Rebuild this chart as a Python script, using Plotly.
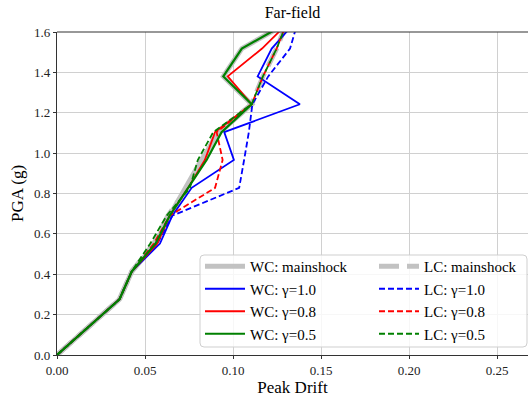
import plotly.graph_objects as go

pga = [0, 0.138, 0.276, 0.414, 0.552, 0.69, 0.828, 0.966, 1.104, 1.242, 1.38, 1.518, 1.656]

wc_main = [0, 0.018, 0.0355, 0.0425, 0.056, 0.064, 0.073, 0.082, 0.0925, 0.1106, 0.0945, 0.105, 0.133]
lc_main = [0, 0.018, 0.0355, 0.0425, 0.055, 0.063, 0.074, 0.083, 0.091, 0.1106, 0.117, 0.1248, 0.131]
wc_10 = [0, 0.018, 0.0355, 0.0425, 0.0585, 0.0655, 0.0765, 0.1005, 0.095, 0.138, 0.114, 0.122, 0.136]
lc_10 = [0, 0.018, 0.0355, 0.0425, 0.057, 0.0655, 0.1035, 0.1063, 0.109, 0.111, 0.120, 0.1324, 0.137]
wc_08 = [0, 0.018, 0.0355, 0.0425, 0.057, 0.064, 0.0745, 0.084, 0.0898, 0.1106, 0.097, 0.1165, 0.1325]
lc_08 = [0, 0.018, 0.0355, 0.0425, 0.055, 0.064, 0.0898, 0.0941, 0.0907, 0.1106, 0.117, 0.1248, 0.131]
wc_05 = [0, 0.018, 0.0355, 0.0425, 0.056, 0.064, 0.0745, 0.085, 0.0935, 0.1106, 0.0945, 0.105, 0.133]
lc_05 = [0, 0.018, 0.0355, 0.0425, 0.053, 0.0623, 0.0755, 0.080, 0.0888, 0.1106, 0.117, 0.1248, 0.131]

x_ticks = [0.0, 0.05, 0.10, 0.15, 0.20, 0.25]
y_ticks = [0.0, 0.2, 0.4, 0.6, 0.8, 1.0, 1.2, 1.4, 1.6]

GRAY = "#c2c2c2"
series = [
    ("WC: mainshock", wc_main, GRAY, "solid", 5, "legend"),
    ("LC: mainshock", lc_main, GRAY, "20px,8px", 5, "legend2"),
    ("WC: γ=1.0", wc_10, "blue", "solid", 1.8, "legend"),
    ("LC: γ=1.0", lc_10, "blue", "6px,3px", 1.8, "legend2"),
    ("WC: γ=0.8", wc_08, "red", "solid", 1.8, "legend"),
    ("LC: γ=0.8", lc_08, "red", "6px,3px", 1.8, "legend2"),
    ("WC: γ=0.5", wc_05, "green", "solid", 2.2, "legend"),
    ("LC: γ=0.5", lc_05, "green", "6px,3px", 1.8, "legend2"),
]

fig = go.Figure()
for name, xs, color, dash, w, lg in series:
    fig.add_trace(go.Scatter(x=xs, y=pga, mode="lines", name=name,
                             line=dict(color=color, dash=dash, width=w),
                             legend=lg))

# pixel geometry of plot area
L, T, W, H = 57, 32, 471, 323
def px(x):
    return (x - L) / W
def py(y):
    return (T + H - y) / H

# rounded legend box (pixels)
bx0, bx1, by0, by1, r = 200, 527, 255, 347, 4
rx, ry = r / W, r / H
X0, X1, Y0, Y1 = px(bx0), px(bx1), py(by1), py(by0)
box_path = (f"M{X0+rx},{Y0} L{X1-rx},{Y0} Q{X1},{Y0} {X1},{Y0+ry} "
            f"L{X1},{Y1-ry} Q{X1},{Y1} {X1-rx},{Y1} L{X0+rx},{Y1} "
            f"Q{X0},{Y1} {X0},{Y1-ry} L{X0},{Y0+ry} Q{X0},{Y0} {X0+rx},{Y0} Z")

font = "Liberation Serif, Times New Roman, serif"
leg_common = dict(orientation="v", yanchor="top", xanchor="left",
                  bgcolor="rgba(0,0,0,0)", borderwidth=0, itemwidth=40,
                  tracegroupgap=0, traceorder="normal",
                  font=dict(size=15, family=font, color="black"))

fig.update_layout(
    width=528, height=401,
    margin=dict(l=L, r=0, t=T, b=46, autoexpand=False),
    paper_bgcolor="white", plot_bgcolor="white",
    font=dict(family=font, size=13, color="#222"),
    title=dict(text="Far-field", x=0.5, xanchor="center", xref="paper",
               y=1 - 12/401, yanchor="middle", font=dict(size=16, color="black")),
    showlegend=True,
    legend=dict(x=px(200), y=py(250), **leg_common),
    legend2=dict(x=px(374), y=py(250), **leg_common),
    xaxis=dict(range=[0, 0.2676], tickvals=x_ticks, tickformat=".2f",
               showgrid=True, gridcolor="#d0d0d0", gridwidth=1,
               showline=True, linecolor="#333", linewidth=1.2,
               ticks="outside", ticklen=3, tickcolor="#333",
               zeroline=False,
               title=dict(text="Peak Drift", font=dict(size=17, color="black"), standoff=4)),
    yaxis=dict(range=[0, 1.6], tickvals=y_ticks, tickformat=".1f",
               showgrid=True, gridcolor="#d0d0d0", gridwidth=1,
               showline=True, linecolor="#333", linewidth=1.2,
               ticks="outside", ticklen=3, tickcolor="#333",
               zeroline=False,
               title=dict(text="PGA (g)", font=dict(size=17, color="black"), standoff=6)),
    shapes=[
        dict(type="line", xref="paper", yref="paper", x0=0, x1=1, y0=1, y1=1,
             line=dict(color="#333", width=1.2)),
        dict(type="path", xref="paper", yref="paper", path=box_path, layer="above",
             fillcolor="rgba(255,255,255,0.82)", line=dict(color="#cfcfcf", width=1)),
    ],
)

fig.write_html("out.html")
